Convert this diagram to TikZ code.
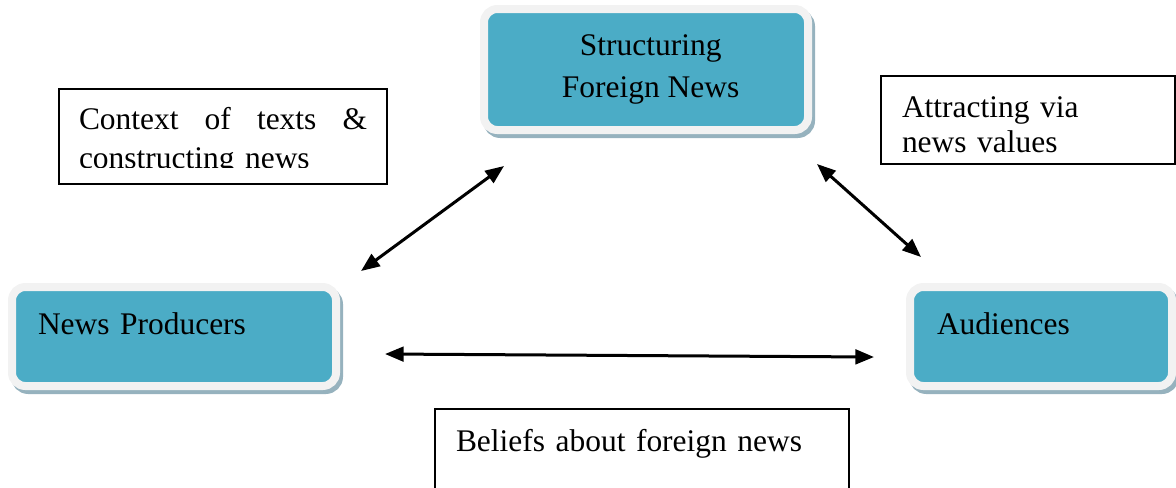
\documentclass[tikz,border=0pt]{standalone}
\usepackage{fontspec}
\setmainfont{Liberation Serif}
\usetikzlibrary{arrows.meta}

\definecolor{newsteal}{RGB}{75,172,198}
\definecolor{rimgray}{RGB}{242,242,242}
\definecolor{rimshadow}{RGB}{150,178,190}

\tikzset{
  actor/.style={draw=rimgray, line width=6pt, fill=newsteal, rounded corners=10pt,
    inner ysep=0pt, font=\fontsize{23.6}{31.5}\selectfont,
    preaction={draw=rimshadow, fill=rimshadow, transform canvas={xshift=2.25pt,yshift=-3pt}}},
  note/.style={draw, line width=1.5pt, anchor=north west, inner ysep=0pt, inner xsep=15.75pt,
    align=left, font=\fontsize{23.6}{26.25}\selectfont},
  link/.style={{Triangle[length=14pt,width=11pt]}-{Triangle[length=14pt,width=11pt]}, line width=2.25pt}
}

\begin{document}
\begin{tikzpicture}[x=0.75pt,y=0.75pt,yscale=-1,xscale=1]
        \useasboundingbox (0,0) rectangle (1176,487);

        %Shape: Rounded Rect [id:struct]
        \node[actor, align=center, minimum width=243pt, minimum height=90.75pt] (struct) at (646,69.5) {\hspace*{7pt}Structuring\\\hspace*{7pt}Foreign News};
        %Shape: Rounded Rect [id:prod]
        \node[actor, align=left, text width=204pt, inner xsep=19.5pt, text height=35.25pt, text depth=39pt] (prod) at (174,336.5) {News Producers};
        %Shape: Rounded Rect [id:aud]
        \node[actor, align=left, text width=156pt, inner xsep=20.25pt, text height=35.25pt, text depth=39pt] (aud) at (1041,336.5) {Audiences};

        % Text Node
        \node[note, inner xsep=15pt, text width=216pt, text height=30pt, text depth=41.25pt, font=\fontsize{23.6}{29.25}\selectfont] (ctx) at (58,88) {Context\hfill of\hfill texts\hfill\&\hspace*{-8pt}\\constructing news};
        \fill[white] (59.5,168) rectangle (384.5,181.5);
        % Text Node
        \node[note, text width=189pt, text height=30.75pt, text depth=35.25pt] (attr) at (880,75) {Attracting via\\news values};
        % Text Node
        \node[note, text width=279pt, text height=31.5pt, text depth=40pt] (bel) at (434,408) {Beliefs about foreign news};

        %Straight Lines
        \draw[link] ([shift={(21,-12)}]prod.north east) -- ([shift={(24,32)}]struct.south west);
        %Straight Lines
        \draw[link] ([shift={(5,30)}]struct.south east) -- ([shift={(15,-26)}]aud.north west);
        %Straight Lines
        \draw[link] ([shift={(45,17.5)}]prod.east) -- ([shift={(-32,20.5)}]aud.west);

\end{tikzpicture}
\end{document}
